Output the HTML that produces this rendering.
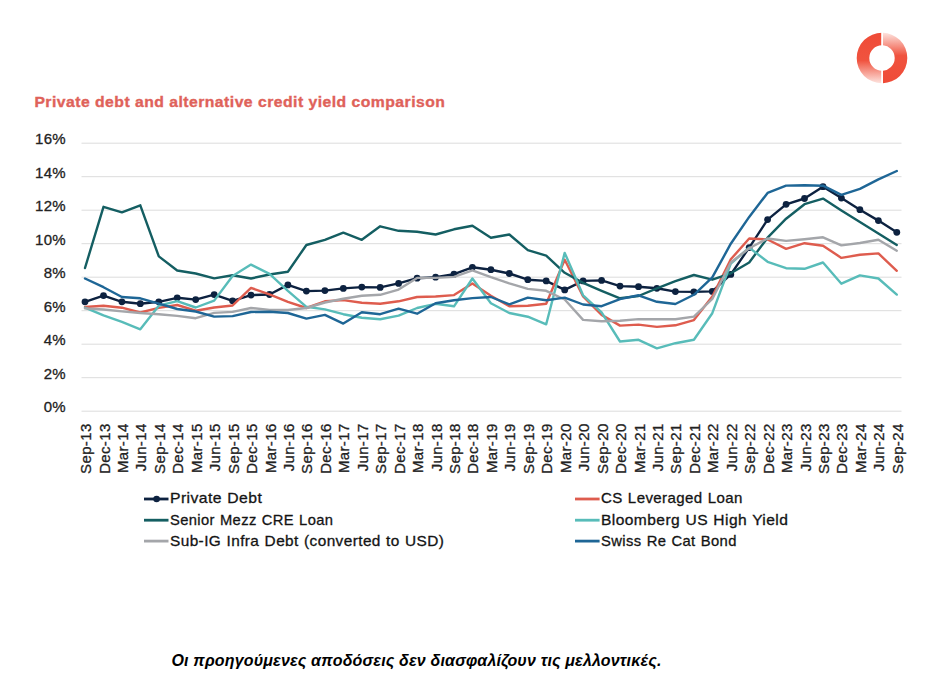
<!DOCTYPE html>
<html><head><meta charset="utf-8"><style>
html,body{margin:0;padding:0;background:#fff;}
body{width:931px;height:674px;overflow:hidden;position:relative;font-family:"Liberation Sans",sans-serif;}
svg{position:absolute;left:0;top:0;}
.yl{font-size:15px;fill:#222;stroke:#222;stroke-width:0.3px;letter-spacing:0.3px;}
.xl{font-size:15px;fill:#222;stroke:#222;stroke-width:0.3px;letter-spacing:0.35px;}
.lg{font-size:15px;fill:#141414;stroke:#141414;stroke-width:0.3px;letter-spacing:0.4px;word-spacing:0.6px;}
.ti{font-size:15px;font-weight:bold;fill:#df625a;stroke:#df625a;stroke-width:0.35px;}
.ft{font-size:16px;font-weight:bold;font-style:italic;fill:#000;letter-spacing:0.15px;}
</style></head><body>
<svg width="931" height="674" viewBox="0 0 931 674">

<defs>
<linearGradient id="gl" x1="0" y1="33" x2="0" y2="83" gradientUnits="userSpaceOnUse">
<stop offset="0" stop-color="#ef4b37"/><stop offset="0.55" stop-color="#f0533f"/><stop offset="1" stop-color="#fde2dd"/>
</linearGradient>
<linearGradient id="gr" x1="0" y1="33" x2="0" y2="83" gradientUnits="userSpaceOnUse">
<stop offset="0" stop-color="#fde2dd"/><stop offset="0.45" stop-color="#f0533f"/><stop offset="1" stop-color="#ef4b37"/>
</linearGradient>
<clipPath id="cl"><rect x="850" y="20" width="31.2" height="80"/></clipPath>
<clipPath id="cr"><rect x="882.9" y="20" width="40" height="80"/></clipPath>
</defs>
<path d="M882 32.7 A25.3 25.3 0 1 0 882 83.3 A25.3 25.3 0 1 0 882 32.7 Z M882 45.3 A12.7 12.7 0 1 1 882 70.7 A12.7 12.7 0 1 1 882 45.3 Z" fill="url(#gl)" fill-rule="evenodd" clip-path="url(#cl)"/>
<path d="M882 32.7 A25.3 25.3 0 1 0 882 83.3 A25.3 25.3 0 1 0 882 32.7 Z M882 45.3 A12.7 12.7 0 1 1 882 70.7 A12.7 12.7 0 1 1 882 45.3 Z" fill="url(#gr)" fill-rule="evenodd" clip-path="url(#cr)"/>

<g transform="translate(34.4,106.5) scale(1.05,1)"><text x="0" y="0" class="ti" textLength="391" lengthAdjust="spacing">Private debt and alternative credit yield comparison</text></g>
<line x1="81.5" y1="411.2" x2="901.5" y2="411.2" stroke="#dcdcdc" stroke-width="1"/><text x="66.0" y="412.4" text-anchor="end" class="yl">0%</text><line x1="81.5" y1="377.7" x2="901.5" y2="377.7" stroke="#dcdcdc" stroke-width="1"/><text x="66.0" y="378.9" text-anchor="end" class="yl">2%</text><line x1="81.5" y1="344.2" x2="901.5" y2="344.2" stroke="#dcdcdc" stroke-width="1"/><text x="66.0" y="345.4" text-anchor="end" class="yl">4%</text><line x1="81.5" y1="310.7" x2="901.5" y2="310.7" stroke="#dcdcdc" stroke-width="1"/><text x="66.0" y="311.9" text-anchor="end" class="yl">6%</text><line x1="81.5" y1="277.2" x2="901.5" y2="277.2" stroke="#dcdcdc" stroke-width="1"/><text x="66.0" y="278.4" text-anchor="end" class="yl">8%</text><line x1="81.5" y1="243.7" x2="901.5" y2="243.7" stroke="#dcdcdc" stroke-width="1"/><text x="66.0" y="244.9" text-anchor="end" class="yl">10%</text><line x1="81.5" y1="210.2" x2="901.5" y2="210.2" stroke="#dcdcdc" stroke-width="1"/><text x="66.0" y="211.4" text-anchor="end" class="yl">12%</text><line x1="81.5" y1="176.7" x2="901.5" y2="176.7" stroke="#dcdcdc" stroke-width="1"/><text x="66.0" y="177.9" text-anchor="end" class="yl">14%</text><line x1="81.5" y1="143.2" x2="901.5" y2="143.2" stroke="#dcdcdc" stroke-width="1"/><text x="66.0" y="144.4" text-anchor="end" class="yl">16%</text><text transform="translate(91.0,423.4) rotate(-90)" text-anchor="end" class="xl">Sep-13</text><text transform="translate(109.5,423.4) rotate(-90)" text-anchor="end" class="xl">Dec-13</text><text transform="translate(127.9,423.4) rotate(-90)" text-anchor="end" class="xl">Mar-14</text><text transform="translate(146.3,423.4) rotate(-90)" text-anchor="end" class="xl">Jun-14</text><text transform="translate(164.8,423.4) rotate(-90)" text-anchor="end" class="xl">Sep-14</text><text transform="translate(183.2,423.4) rotate(-90)" text-anchor="end" class="xl">Dec-14</text><text transform="translate(201.7,423.4) rotate(-90)" text-anchor="end" class="xl">Mar-15</text><text transform="translate(220.2,423.4) rotate(-90)" text-anchor="end" class="xl">Jun-15</text><text transform="translate(238.6,423.4) rotate(-90)" text-anchor="end" class="xl">Sep-15</text><text transform="translate(257.0,423.4) rotate(-90)" text-anchor="end" class="xl">Dec-15</text><text transform="translate(275.5,423.4) rotate(-90)" text-anchor="end" class="xl">Mar-16</text><text transform="translate(293.9,423.4) rotate(-90)" text-anchor="end" class="xl">Jun-16</text><text transform="translate(312.4,423.4) rotate(-90)" text-anchor="end" class="xl">Sep-16</text><text transform="translate(330.9,423.4) rotate(-90)" text-anchor="end" class="xl">Dec-16</text><text transform="translate(349.3,423.4) rotate(-90)" text-anchor="end" class="xl">Mar-17</text><text transform="translate(367.8,423.4) rotate(-90)" text-anchor="end" class="xl">Jun-17</text><text transform="translate(386.2,423.4) rotate(-90)" text-anchor="end" class="xl">Sep-17</text><text transform="translate(404.6,423.4) rotate(-90)" text-anchor="end" class="xl">Dec-17</text><text transform="translate(423.1,423.4) rotate(-90)" text-anchor="end" class="xl">Mar-18</text><text transform="translate(441.6,423.4) rotate(-90)" text-anchor="end" class="xl">Jun-18</text><text transform="translate(460.0,423.4) rotate(-90)" text-anchor="end" class="xl">Sep-18</text><text transform="translate(478.4,423.4) rotate(-90)" text-anchor="end" class="xl">Dec-18</text><text transform="translate(496.9,423.4) rotate(-90)" text-anchor="end" class="xl">Mar-19</text><text transform="translate(515.3,423.4) rotate(-90)" text-anchor="end" class="xl">Jun-19</text><text transform="translate(533.8,423.4) rotate(-90)" text-anchor="end" class="xl">Sep-19</text><text transform="translate(552.2,423.4) rotate(-90)" text-anchor="end" class="xl">Dec-19</text><text transform="translate(570.7,423.4) rotate(-90)" text-anchor="end" class="xl">Mar-20</text><text transform="translate(589.1,423.4) rotate(-90)" text-anchor="end" class="xl">Jun-20</text><text transform="translate(607.6,423.4) rotate(-90)" text-anchor="end" class="xl">Sep-20</text><text transform="translate(626.0,423.4) rotate(-90)" text-anchor="end" class="xl">Dec-20</text><text transform="translate(644.5,423.4) rotate(-90)" text-anchor="end" class="xl">Mar-21</text><text transform="translate(662.9,423.4) rotate(-90)" text-anchor="end" class="xl">Jun-21</text><text transform="translate(681.4,423.4) rotate(-90)" text-anchor="end" class="xl">Sep-21</text><text transform="translate(699.9,423.4) rotate(-90)" text-anchor="end" class="xl">Dec-21</text><text transform="translate(718.3,423.4) rotate(-90)" text-anchor="end" class="xl">Mar-22</text><text transform="translate(736.8,423.4) rotate(-90)" text-anchor="end" class="xl">Jun-22</text><text transform="translate(755.2,423.4) rotate(-90)" text-anchor="end" class="xl">Sep-22</text><text transform="translate(773.6,423.4) rotate(-90)" text-anchor="end" class="xl">Dec-22</text><text transform="translate(792.1,423.4) rotate(-90)" text-anchor="end" class="xl">Mar-23</text><text transform="translate(810.5,423.4) rotate(-90)" text-anchor="end" class="xl">Jun-23</text><text transform="translate(829.0,423.4) rotate(-90)" text-anchor="end" class="xl">Sep-23</text><text transform="translate(847.4,423.4) rotate(-90)" text-anchor="end" class="xl">Dec-23</text><text transform="translate(865.9,423.4) rotate(-90)" text-anchor="end" class="xl">Mar-24</text><text transform="translate(884.4,423.4) rotate(-90)" text-anchor="end" class="xl">Jun-24</text><text transform="translate(902.8,423.4) rotate(-90)" text-anchor="end" class="xl">Sep-24</text><polyline points="85.0,301.8 103.5,295.6 121.9,301.8 140.3,303.7 158.8,301.8 177.2,297.8 195.7,299.6 214.2,294.6 232.6,300.8 251.0,295.1 269.5,294.5 287.9,284.9 306.4,291.1 324.9,290.6 343.3,288.4 361.8,287.1 380.2,287.4 398.6,283.4 417.1,278.2 435.6,277.2 454.0,274.2 472.4,267.3 490.9,269.7 509.3,273.5 527.8,279.7 546.2,280.9 564.7,289.9 583.1,280.9 601.6,280.4 620.0,286.1 638.5,286.7 656.9,288.3 675.4,291.6 693.9,291.9 712.3,291.4 730.8,274.4 749.2,247.6 767.6,219.6 786.1,204.3 804.5,198.5 823.0,186.7 841.4,198.1 859.9,209.7 878.4,220.6 896.8,232.3" fill="none" stroke="#0d2240" stroke-width="2.4" stroke-linejoin="round" stroke-linecap="round"/><circle cx="85.0" cy="301.8" r="3.4" fill="#0d2240"/><circle cx="103.5" cy="295.6" r="3.4" fill="#0d2240"/><circle cx="121.9" cy="301.8" r="3.4" fill="#0d2240"/><circle cx="140.3" cy="303.7" r="3.4" fill="#0d2240"/><circle cx="158.8" cy="301.8" r="3.4" fill="#0d2240"/><circle cx="177.2" cy="297.8" r="3.4" fill="#0d2240"/><circle cx="195.7" cy="299.6" r="3.4" fill="#0d2240"/><circle cx="214.2" cy="294.6" r="3.4" fill="#0d2240"/><circle cx="232.6" cy="300.8" r="3.4" fill="#0d2240"/><circle cx="251.0" cy="295.1" r="3.4" fill="#0d2240"/><circle cx="269.5" cy="294.5" r="3.4" fill="#0d2240"/><circle cx="287.9" cy="284.9" r="3.4" fill="#0d2240"/><circle cx="306.4" cy="291.1" r="3.4" fill="#0d2240"/><circle cx="324.9" cy="290.6" r="3.4" fill="#0d2240"/><circle cx="343.3" cy="288.4" r="3.4" fill="#0d2240"/><circle cx="361.8" cy="287.1" r="3.4" fill="#0d2240"/><circle cx="380.2" cy="287.4" r="3.4" fill="#0d2240"/><circle cx="398.6" cy="283.4" r="3.4" fill="#0d2240"/><circle cx="417.1" cy="278.2" r="3.4" fill="#0d2240"/><circle cx="435.6" cy="277.2" r="3.4" fill="#0d2240"/><circle cx="454.0" cy="274.2" r="3.4" fill="#0d2240"/><circle cx="472.4" cy="267.3" r="3.4" fill="#0d2240"/><circle cx="490.9" cy="269.7" r="3.4" fill="#0d2240"/><circle cx="509.3" cy="273.5" r="3.4" fill="#0d2240"/><circle cx="527.8" cy="279.7" r="3.4" fill="#0d2240"/><circle cx="546.2" cy="280.9" r="3.4" fill="#0d2240"/><circle cx="564.7" cy="289.9" r="3.4" fill="#0d2240"/><circle cx="583.1" cy="280.9" r="3.4" fill="#0d2240"/><circle cx="601.6" cy="280.4" r="3.4" fill="#0d2240"/><circle cx="620.0" cy="286.1" r="3.4" fill="#0d2240"/><circle cx="638.5" cy="286.7" r="3.4" fill="#0d2240"/><circle cx="656.9" cy="288.3" r="3.4" fill="#0d2240"/><circle cx="675.4" cy="291.6" r="3.4" fill="#0d2240"/><circle cx="693.9" cy="291.9" r="3.4" fill="#0d2240"/><circle cx="712.3" cy="291.4" r="3.4" fill="#0d2240"/><circle cx="730.8" cy="274.4" r="3.4" fill="#0d2240"/><circle cx="749.2" cy="247.6" r="3.4" fill="#0d2240"/><circle cx="767.6" cy="219.6" r="3.4" fill="#0d2240"/><circle cx="786.1" cy="204.3" r="3.4" fill="#0d2240"/><circle cx="804.5" cy="198.5" r="3.4" fill="#0d2240"/><circle cx="823.0" cy="186.7" r="3.4" fill="#0d2240"/><circle cx="841.4" cy="198.1" r="3.4" fill="#0d2240"/><circle cx="859.9" cy="209.7" r="3.4" fill="#0d2240"/><circle cx="878.4" cy="220.6" r="3.4" fill="#0d2240"/><circle cx="896.8" cy="232.3" r="3.4" fill="#0d2240"/><polyline points="85.0,307.0 103.5,305.8 121.9,307.7 140.3,312.5 158.8,307.9 177.2,305.0 195.7,310.7 214.2,307.5 232.6,305.5 251.0,287.9 269.5,294.3 287.9,301.8 306.4,308.0 324.9,301.3 343.3,300.1 361.8,302.7 380.2,303.8 398.6,301.3 417.1,297.0 435.6,296.5 454.0,295.1 472.4,283.4 490.9,295.8 509.3,306.3 527.8,305.7 546.2,303.8 564.7,259.8 583.1,296.5 601.6,314.9 620.0,325.6 638.5,324.6 656.9,326.9 675.4,325.3 693.9,320.1 712.3,296.5 730.8,259.3 749.2,238.5 767.6,239.5 786.1,248.9 804.5,243.2 823.0,245.7 841.4,257.9 859.9,254.8 878.4,253.4 896.8,270.8" fill="none" stroke="#de5c4e" stroke-width="2.4" stroke-linejoin="round" stroke-linecap="round"/><polyline points="85.0,268.0 103.5,206.8 121.9,212.4 140.3,205.3 158.8,256.4 177.2,270.5 195.7,273.5 214.2,278.4 232.6,275.2 251.0,278.5 269.5,274.5 287.9,271.7 306.4,245.0 324.9,239.8 343.3,232.6 361.8,239.8 380.2,226.3 398.6,230.8 417.1,231.8 435.6,234.5 454.0,229.3 472.4,225.8 490.9,237.8 509.3,234.5 527.8,250.2 546.2,255.6 564.7,272.8 583.1,282.9 601.6,290.8 620.0,298.3 638.5,296.0 656.9,288.3 675.4,281.2 693.9,275.0 712.3,279.7 730.8,273.3 749.2,262.5 767.6,237.7 786.1,218.7 804.5,204.2 823.0,198.6 841.4,210.4 859.9,221.9 878.4,233.5 896.8,244.9" fill="none" stroke="#145e62" stroke-width="2.4" stroke-linejoin="round" stroke-linecap="round"/><polyline points="85.0,307.7 103.5,315.4 121.9,321.9 140.3,329.3 158.8,305.7 177.2,301.2 195.7,307.5 214.2,300.6 232.6,276.0 251.0,264.6 269.5,273.9 287.9,290.8 306.4,306.8 324.9,309.4 343.3,314.2 361.8,317.7 380.2,319.2 398.6,315.6 417.1,308.0 435.6,303.8 454.0,306.3 472.4,278.5 490.9,303.2 509.3,313.0 527.8,316.7 546.2,324.3 564.7,252.9 583.1,295.3 601.6,312.4 620.0,341.5 638.5,339.8 656.9,348.4 675.4,343.2 693.9,339.8 712.3,313.2 730.8,263.6 749.2,247.6 767.6,261.8 786.1,268.2 804.5,268.8 823.0,262.5 841.4,283.7 859.9,275.4 878.4,278.5 896.8,294.6" fill="none" stroke="#58bcb9" stroke-width="2.4" stroke-linejoin="round" stroke-linecap="round"/><polyline points="85.0,308.4 103.5,309.5 121.9,311.4 140.3,313.0 158.8,314.2 177.2,315.9 195.7,318.2 214.2,312.9 232.6,311.9 251.0,308.0 269.5,309.9 287.9,310.0 306.4,308.0 324.9,302.5 343.3,298.8 361.8,295.8 380.2,294.8 398.6,289.6 417.1,277.9 435.6,277.9 454.0,276.9 472.4,270.3 490.9,277.2 509.3,283.4 527.8,288.9 546.2,290.8 564.7,299.5 583.1,319.9 601.6,321.3 620.0,320.8 638.5,319.1 656.9,319.2 675.4,319.2 693.9,316.6 712.3,299.0 730.8,262.5 749.2,248.2 767.6,238.5 786.1,240.9 804.5,239.2 823.0,237.3 841.4,245.4 859.9,243.0 878.4,239.8 896.8,250.7" fill="none" stroke="#a4a6aa" stroke-width="2.4" stroke-linejoin="round" stroke-linecap="round"/><polyline points="85.0,278.5 103.5,287.2 121.9,297.0 140.3,298.3 158.8,303.7 177.2,309.0 195.7,311.5 214.2,316.6 232.6,316.1 251.0,312.0 269.5,311.7 287.9,313.0 306.4,318.6 324.9,314.9 343.3,323.6 361.8,312.2 380.2,314.2 398.6,308.7 417.1,313.7 435.6,303.2 454.0,300.3 472.4,298.1 490.9,297.0 509.3,304.3 527.8,297.6 546.2,300.3 564.7,297.6 583.1,304.5 601.6,306.2 620.0,299.1 638.5,295.3 656.9,301.8 675.4,304.0 693.9,294.8 712.3,277.4 730.8,243.7 749.2,216.9 767.6,192.9 786.1,185.6 804.5,185.2 823.0,185.7 841.4,194.8 859.9,188.9 878.4,179.4 896.8,171.0" fill="none" stroke="#1e6696" stroke-width="2.4" stroke-linejoin="round" stroke-linecap="round"/>
<line x1="144" y1="499.0" x2="168.5" y2="499.0" stroke="#0d2240" stroke-width="2.8"/><circle cx="156.6" cy="499.0" r="3.3" fill="#0d2240"/><text x="170.0" y="503.4" class="lg" textLength="92.2" lengthAdjust="spacingAndGlyphs">Private Debt</text><line x1="575" y1="499.0" x2="599.6" y2="499.0" stroke="#de5c4e" stroke-width="2.8"/><text x="601.0" y="503.4" class="lg" textLength="141.8" lengthAdjust="spacingAndGlyphs">CS Leveraged Loan</text><line x1="144" y1="520.2" x2="168.5" y2="520.2" stroke="#145e62" stroke-width="2.8"/><text x="170.0" y="524.6" class="lg" textLength="163.4" lengthAdjust="spacingAndGlyphs">Senior Mezz CRE Loan</text><line x1="575" y1="520.2" x2="599.6" y2="520.2" stroke="#58bcb9" stroke-width="2.8"/><text x="601.0" y="524.6" class="lg" textLength="187.3" lengthAdjust="spacingAndGlyphs">Bloomberg US High Yield</text><line x1="144" y1="541.1" x2="168.5" y2="541.1" stroke="#a4a6aa" stroke-width="2.8"/><text x="170.0" y="545.5" class="lg" textLength="274.3" lengthAdjust="spacingAndGlyphs">Sub-IG Infra Debt (converted to USD)</text><line x1="575" y1="541.1" x2="599.6" y2="541.1" stroke="#1e6696" stroke-width="2.8"/><text x="601.0" y="545.5" class="lg" textLength="135.8" lengthAdjust="spacingAndGlyphs">Swiss Re Cat Bond</text>
<text x="171.5" y="665.9" class="ft" textLength="490" lengthAdjust="spacing">Οι προηγούμενες αποδόσεις δεν διασφαλίζουν τις μελλοντικές.</text>
</svg>
</body></html>
